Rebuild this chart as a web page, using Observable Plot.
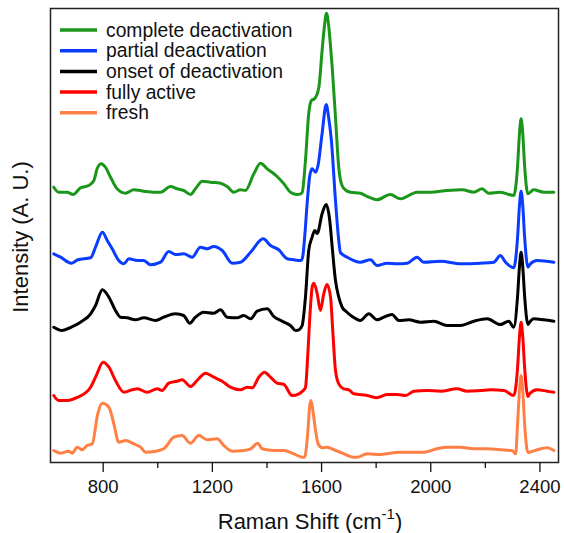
<!DOCTYPE html>
<html><head><meta charset="utf-8">
<script src="https://cdn.jsdelivr.net/npm/d3@7"></script>
<script src="https://cdn.jsdelivr.net/npm/@observablehq/plot@0.6"></script>
<style>
body{margin:0;background:#fff;}
svg{font-family:"Liberation Sans",Arial,sans-serif;}
</style>
</head><body><div id="chart"></div>
<script>
const seriesNames = ["complete deactivation","partial deactivation","onset of deactivation","fully active","fresh"];
const seriesColors = ["#1a961a","#0a3cff","#000000","#ff0000","#ff8045"];
const majorTicks = [800,1200,1600,2000,2400];
const minorTicks = [1000,1400,1800,2200];

// [Raman shift (cm-1), intensity (A.U., offset spectra as read)]
const completeDeactivation = [[619,275.3],[637,270.3],[668,270.3],[690,268],[717,274.7],[747,277],[766,282],[778,294],[793,298.7],[808,295.3],[827,285.3],[851,273.7],[882,269.3],[912,272.7],[949,271.3],[985,270.3],[1010,270.3],[1047,276],[1071,273.7],[1095,272],[1120,268],[1138,273.7],[1163,281.3],[1193,280.3],[1230,279.3],[1254,276],[1278,270.3],[1303,272.7],[1321,272],[1352,288.7],[1376,299.3],[1401,293.7],[1437,286],[1462,278.7],[1486,270.3],[1511,268],[1523,268.7],[1529,270],[1541,302],[1553,349],[1563,362],[1575,364],[1590,375],[1602,412],[1610,435],[1618,449.3],[1626,437],[1633,416],[1639,395],[1651,345],[1663,295],[1675,277],[1690,272],[1706,270.3],[1742,269.3],[1773,265.3],[1803,262.7],[1852,268],[1889,263.7],[1950,270.3],[1999,270.3],[2060,272],[2115,272.7],[2158,270.3],[2188,273.7],[2212,269.3],[2255,270.3],[2304,267],[2318,296],[2325,329],[2331,343.7],[2337,329],[2344,296],[2356,268.7],[2377,272.7],[2414,270.3],[2451,270.3]];
const partialDeactivation = [[619,208.7],[644,205.3],[683,199.3],[707,202.7],[754,204.7],[772,215.3],[797,230.3],[815,222],[833,213.7],[857,202],[876,198.7],[894,203.7],[925,202],[949,202],[973,197.7],[1010,200.3],[1040,211],[1065,208],[1095,208.7],[1126,205.3],[1156,215.3],[1181,213.7],[1205,216],[1236,212],[1273,199.3],[1303,200.3],[1340,210.3],[1386,223.7],[1413,217],[1443,212.7],[1474,203.7],[1498,202.7],[1525,202],[1531,206],[1538,225],[1548,262],[1556,285.3],[1565,293.7],[1578,290.3],[1587,297],[1602,329],[1617,358],[1626,345],[1636,322],[1651,262],[1663,222],[1669,210],[1694,205.3],[1742,200.3],[1779,202.7],[1803,197],[1840,199.3],[1877,198.7],[1914,199.3],[1950,205.3],[1974,200.3],[2036,201.3],[2109,198.7],[2182,199.3],[2231,200.3],[2255,207],[2274,200.3],[2304,194.7],[2318,225],[2325,257],[2331,271.3],[2337,257],[2344,225],[2356,195.3],[2365,198.7],[2390,202],[2451,200.3]];
const onsetOfDeactivation = [[619,135.3],[650,132],[683,135.3],[717,140.3],[754,148.7],[772,157],[797,172.7],[821,165.3],[845,152],[864,145.3],[888,144.7],[918,142.7],[949,144.7],[992,142],[1022,145.3],[1065,148.7],[1095,147],[1117,139.3],[1138,145.3],[1168,150.3],[1205,149.3],[1230,152.7],[1254,145.3],[1291,144.7],[1315,147],[1340,143.7],[1364,151.3],[1401,153.7],[1425,146],[1456,141.3],[1486,137],[1505,132],[1517,132.7],[1529,137],[1541,165.3],[1553,212],[1565,225],[1575,232],[1584,229],[1602,248.7],[1617,258],[1630,242],[1639,215.3],[1651,182],[1663,165.3],[1676,155],[1690,151],[1712,146],[1742,142],[1773,148.7],[1803,142.7],[1828,145.3],[1858,148],[1883,142],[1919,142.7],[1962,140.3],[2011,141.3],[2060,137],[2109,137],[2158,141.3],[2207,143.7],[2255,138],[2286,141.3],[2304,135.3],[2318,166],[2325,196],[2331,210.3],[2337,196],[2344,166],[2356,138],[2362,140.3],[2377,143.7],[2414,142.7],[2451,141.3]];
const fullyActive = [[619,67],[637,62],[668,62],[707,65.3],[754,75.3],[772,85.3],[800,100.3],[821,95.3],[845,82],[876,70.3],[906,72.7],[925,73.7],[961,70.3],[998,73.7],[1016,72],[1040,79.3],[1071,81.3],[1089,82.7],[1120,76],[1144,82],[1175,89.3],[1205,85.3],[1236,81.3],[1266,75.3],[1303,72.7],[1327,75.3],[1346,74.7],[1370,85.3],[1391,90.3],[1413,85.3],[1437,79.3],[1462,78],[1492,67],[1517,68.7],[1533,72],[1541,75],[1550,110],[1558,150],[1566,176],[1572,179.3],[1584,168.7],[1596,152],[1608,168.7],[1620,178],[1633,165.3],[1641,132],[1651,92],[1663,78.7],[1681,73.7],[1700,72.7],[1718,68.7],[1767,67],[1803,64.7],[1840,68],[1877,68],[1908,67],[1938,71.3],[1987,72],[2036,71.3],[2097,73.7],[2133,71.3],[2182,72],[2219,72.7],[2268,72],[2304,67],[2318,94.5],[2325,126],[2331,140.3],[2337,126],[2344,94.5],[2356,66],[2362,68.7],[2390,72.7],[2426,71.3],[2451,70.3]];
const fresh = [[619,12],[644,9.3],[674,11.3],[686,9.3],[705,15.3],[723,12.7],[741,17],[760,18.7],[780,48.7],[797,59.3],[821,55.3],[839,38.7],[857,20.3],[882,22],[912,18.7],[937,15.3],[955,10.3],[992,11.3],[1022,13.7],[1059,25.3],[1089,27],[1120,19.3],[1150,27],[1181,22.7],[1218,23.7],[1242,17],[1273,11.3],[1315,12],[1340,13.7],[1367,19.3],[1382,13.7],[1425,12],[1462,12],[1498,8.7],[1529,5.3],[1538,5.3],[1550,32],[1556,55],[1561,62],[1567,54],[1578,32],[1587,19],[1602,14.7],[1620,15.3],[1651,12],[1688,8],[1718,5.3],[1730,5.3],[1767,8.7],[1816,8],[1852,9.3],[1883,10.3],[1919,10.3],[1974,10.3],[2023,13.7],[2060,15.3],[2109,15.3],[2158,13.7],[2207,13.7],[2255,12.7],[2298,12],[2311,8.7],[2318,38],[2325,72],[2331,87],[2337,72],[2344,38],[2356,10],[2362,10.3],[2390,12.7],[2426,14.7],[2451,12]];

const allSeries = [completeDeactivation, partialDeactivation, onsetOfDeactivation, fullyActive, fresh];
const rows = [];
allSeries.forEach((s, i) => s.forEach(([x, y]) => rows.push({shift: x, intensity: y, series: seriesNames[i]})));

const plot = Plot.plot({
  width: 564, height: 533,
  marginTop: 8, marginBottom: 71, marginLeft: 50, marginRight: 6,
  style: {fontFamily: "'Liberation Sans', Arial, sans-serif", background: "#fff", color: "#111"},
  x: {domain: [607, 2468]},
  y: {domain: [0, 454], axis: null},
  color: {domain: seriesNames, range: seriesColors},
  marks: [
    Plot.line(rows, {x: "shift", y: "intensity", z: "series", stroke: "series", strokeWidth: 3, curve: "monotone-x"}),
    Plot.frame({stroke: "#222", strokeWidth: 1.5}),
    Plot.axisX({ticks: majorTicks, tickSize: 10, tickPadding: 7, fontSize: 18.5, label: null, tickFormat: d => String(d), strokeWidth: 1.3}),
    Plot.axisX({ticks: minorTicks, tickSize: 6, tickFormat: () => "", label: null, strokeWidth: 1.3})
  ]
});
document.getElementById("chart").appendChild(plot);

const svg = d3.select(plot);
svg.append("text")
  .attr("transform", "translate(20,237) rotate(-90)")
  .attr("text-anchor", "middle").attr("dominant-baseline", "central")
  .attr("font-size", 22).attr("fill", "#111")
  .text("Intensity (A. U.)");
const xl = svg.append("text")
  .attr("x", 310).attr("y", 529)
  .attr("text-anchor", "middle").attr("font-size", 22).attr("fill", "#111");
xl.append("tspan").text("Raman Shift (cm");
xl.append("tspan").attr("font-size", 15).attr("dy", -10).text("-1");
xl.append("tspan").attr("dy", 10).text(")");

const legend = svg.append("g");
seriesNames.forEach((name, i) => {
  const yy = 30 + i * 20.7;
  legend.append("line").attr("x1", 60).attr("x2", 97).attr("y1", yy).attr("y2", yy)
    .attr("stroke", seriesColors[i]).attr("stroke-width", 3.5);
  legend.append("text").attr("x", 106).attr("y", yy).attr("dominant-baseline", "central")
    .attr("text-anchor", "start")
    .attr("font-size", 19.3).attr("fill", "#111").text(name);
});
</script>
</body></html>
